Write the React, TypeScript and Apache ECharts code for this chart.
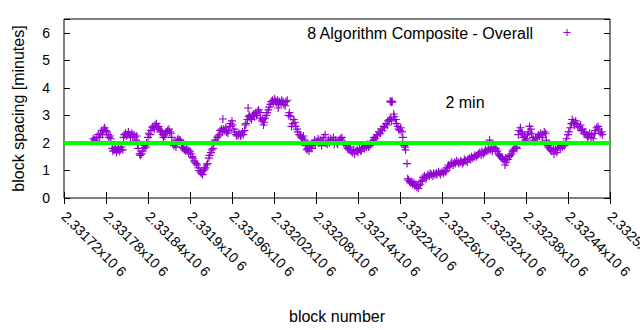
import React, { useEffect, useRef } from "react";
import * as echarts from "echarts";

const BLOCK_START = 2331720;
const BLOCK_END = 2332500;
const BLOCK_TICK = 60;
const TARGET_MINUTES = 2;
const SERIES_NAME = "8 Algorithm Composite - Overall";
const TARGET_LABEL = "2 min";

// block number offsets from BLOCK_START
const blockOffsets = [
  40, 42, 44, 46, 47, 49, 51, 52, 54, 55, 57, 58, 60, 61, 63, 64, 66, 67,
  69, 70, 72, 73, 75, 76, 78, 79, 81, 82, 84,
  85, 86, 88, 89, 91, 92, 94, 95, 97, 98, 100, 101, 103, 104,
  105, 106, 108, 109, 111, 112, 114, 115, 117, 118,
  120, 121, 123, 124, 126, 127, 129, 130, 132, 133, 135, 136, 138, 139, 141, 142, 144,
  145, 147, 148, 150, 151, 153, 154, 156, 157, 159, 160, 162, 163, 165,
  166, 168, 169, 171, 172, 174, 175, 177, 178, 180, 181, 183, 184, 186, 187, 189, 190, 192, 193,
  195, 196, 198, 199, 201, 202, 204, 205, 207, 208, 210, 211, 213,
  214, 216, 217, 219, 220, 222,
  223, 225, 226, 227, 228, 229, 231, 232, 234, 235, 237, 238, 240, 241, 243, 244, 246, 247, 249,
  250, 252, 253, 255, 256, 258,
  259, 260, 262, 263, 264, 265, 266, 268, 269, 271, 272, 274, 275, 277,
  278, 280, 281, 283, 284, 285, 286, 287, 289, 290, 292, 293,
  295, 296, 298, 299, 301, 302, 304, 305, 306, 307, 308, 310, 311, 313, 314, 316, 317, 319,
  321, 322, 324, 325, 327, 328, 330, 331, 333, 334, 336,
  338, 339, 341, 342, 344, 345, 347, 348, 350, 351, 353, 354,
  356, 358, 359, 361, 363, 364, 366, 368, 369, 371, 373, 374, 376, 378, 379, 381, 383, 385, 386, 388, 390, 391, 393, 395, 397, 398, 400, 402,
  404, 405, 407, 409, 410, 412, 414, 415, 417, 419, 420, 422, 424, 425, 427, 429, 430, 432, 434, 435, 437, 439,
  440, 442, 443, 445, 447, 448, 450, 452, 453, 455, 457, 458, 460, 462, 463, 465, 467, 468,
  466, 467, 468, 469,
  471, 472, 474, 475, 477, 478, 480, 481, 483, 484, 486, 487, 488, 490,
  491, 492, 494, 495, 497, 498, 500, 501, 503, 504, 506, 507, 509,
  510, 512, 513, 515, 517, 518, 520, 522, 523, 525, 527, 528, 530, 532, 533, 535, 537, 538, 540, 542, 543, 545,
  546, 548, 549, 551, 553, 554, 556, 558, 559, 561, 563, 564, 566,
  567, 569, 571, 572, 574, 576, 577, 579, 581, 582, 584, 586, 587,
  589, 591, 592, 594, 596, 597, 599, 601, 602, 604, 606, 607, 608,
  609, 611, 612, 614, 616, 617, 619,
  621, 622, 624, 626, 627, 629, 630, 631, 632, 634, 636, 637,
  639, 641, 642, 644, 646, 647,
  649, 650, 652, 653, 655, 656, 658, 659, 661, 662, 664, 665, 667,
  668, 670, 671, 673, 674, 676, 678, 679, 681, 683, 684, 686, 688, 689,
  691, 692, 694, 695, 697, 699, 700, 702, 704, 705, 707, 709, 710, 712, 714, 715,
  717, 718, 720, 721, 723, 725, 726, 728, 729, 731, 733, 734, 736, 738, 739, 741, 743, 744,
  746, 748, 749, 751, 753, 754, 756, 758, 759, 761, 763, 764, 766, 768, 769,
];

// block spacing in minutes
const spacingMinutes = [
  2.05, 2.15, 2.1, 2.2, 2.05, 2.3, 2.2, 2.35, 2.45, 2.3, 2.5, 2.55, 2.45, 2.4, 2.3, 2.2, 2.25, 2.15,
  1.8, 1.7, 1.75, 1.85, 1.65, 1.75, 1.8, 1.7, 1.75, 1.85, 1.75,
  2.2, 2.3, 2.35, 2.25, 2.3, 2.4, 2.3, 2.2, 2.35, 2.25, 2.3, 2.2, 2.1, 2.25,
  1.95, 1.8, 1.6, 1.55, 1.6, 1.7, 1.8, 1.9, 1.85, 2.0,
  2.2, 2.35, 2.3, 2.45, 2.55, 2.6, 2.5, 2.65, 2.7, 2.55, 2.6, 2.5, 2.4, 2.45, 2.3, 2.2, 2.25,
  2.35, 2.4, 2.45, 2.5, 2.4, 2.35, 2.2, 2.0, 1.9, 1.95, 1.85, 2.1, 2.15, 2.1,
  2.1, 2.0, 1.85, 1.8, 1.75, 1.7, 1.8, 1.75, 1.65, 1.7, 1.6, 1.5, 1.45, 1.35, 1.3, 1.25, 1.2, 1.1, 1.0,
  0.95, 0.9, 0.85, 1.0, 1.05, 1.1, 1.2, 1.25, 1.45, 1.55, 1.65, 1.75, 1.8,
  2.0, 2.1, 2.05, 2.2, 2.25, 2.3,
  2.45, 2.5, 2.4, 2.87, 2.5, 2.45, 2.55, 2.4, 2.35, 2.45, 2.6, 2.7, 2.8, 2.65, 2.5, 2.4, 2.3, 2.25, 2.3,
  2.35, 2.25, 2.3, 2.4, 2.3, 2.45,
  2.65, 2.7, 2.85, 3.27, 2.95, 3.0, 2.9, 2.85, 3.0, 3.05, 2.95, 3.1, 3.0, 3.15,
  3.2, 3.1, 2.9, 2.8, 2.85, 2.65, 2.75, 2.9, 3.0, 3.1, 3.2, 3.3,
  3.4, 3.5, 3.55, 3.45, 3.6, 3.5, 3.45, 3.55, 3.27, 3.4, 3.5, 3.45, 3.55, 3.5, 3.4, 3.35, 3.5, 3.55,
  3.0, 3.1, 2.95, 2.6, 2.7, 2.85, 2.75, 2.6, 2.5, 2.4, 2.3,
  2.25, 2.2, 2.15, 2.25, 2.1, 1.9, 1.75, 1.8, 1.7, 1.85, 1.9, 1.8,
  2.0, 2.1, 1.95, 2.05, 2.15, 2.0, 2.1, 1.9, 2.05, 2.2, 2.3, 2.0, 1.95, 2.1, 2.0, 2.15, 2.05, 2.2, 1.95, 2.1, 2.0, 1.95, 2.1, 2.15, 2.2, 2.05, 2.0, 1.95,
  1.9, 1.8, 1.75, 1.85, 1.7, 1.65, 1.75, 1.6, 1.7, 1.75, 1.65, 1.8, 1.7, 1.75, 1.85, 1.8, 1.9, 1.85, 1.95, 1.85, 1.9, 2.0,
  2.05, 2.1, 2.2, 2.15, 2.25, 2.3, 2.4, 2.35, 2.5, 2.45, 2.6, 2.55, 2.7, 2.65, 2.8, 2.85, 2.9, 2.8,
  3.5, 3.52, 3.48, 3.5,
  3.05, 2.95, 2.85, 2.7, 2.6, 2.5, 2.45, 2.55, 2.4, 2.2, 1.9, 1.85, 1.75, 1.25,
  0.7, 0.65, 0.6, 0.55, 0.6, 0.5, 0.55, 0.45, 0.5, 0.4, 0.35, 0.45, 0.5,
  0.6, 0.65, 0.75, 0.8, 0.7, 0.75, 0.85, 0.8, 0.9, 0.85, 0.8, 0.9, 0.85, 0.9, 0.85, 0.95, 0.9, 0.85, 0.95, 0.9, 1.0, 0.95,
  1.0, 1.1, 1.2, 1.15, 1.25, 1.3, 1.2, 1.3, 1.25, 1.35, 1.3, 1.25, 1.3,
  1.35, 1.25, 1.3, 1.4, 1.35, 1.3, 1.4, 1.45, 1.4, 1.5, 1.45, 1.5, 1.55,
  1.5, 1.55, 1.6, 1.65, 1.55, 1.7, 1.6, 1.65, 1.75, 1.7, 1.8, 1.75, 2.1,
  1.75, 1.8, 1.7, 1.85, 1.75, 1.8, 1.7,
  1.6, 1.55, 1.5, 1.45, 1.4, 1.35, 1.2, 1.45, 1.3, 1.4, 1.5, 1.55,
  1.6, 1.7, 1.75, 1.8, 1.85, 1.8,
  2.3, 2.45, 2.55, 2.4, 2.35, 2.2, 2.25, 2.1, 2.15, 2.3, 2.4, 2.6, 2.5,
  2.35, 2.2, 2.1, 2.05, 2.15, 2.2, 2.3, 2.25, 2.35, 2.2, 2.3, 2.4, 2.35, 2.1,
  1.9, 1.85, 1.8, 1.75, 1.7, 1.8, 1.6, 1.75, 1.65, 1.8, 1.85, 1.8, 1.9, 1.85, 1.95, 1.9,
  2.05, 2.15, 2.3, 2.4, 2.55, 2.7, 2.85, 2.75, 2.65, 2.8, 2.7, 2.6, 2.55, 2.65, 2.45, 2.5, 2.35, 2.4,
  2.3, 2.2, 2.25, 2.35, 2.2, 2.3, 2.15, 2.35, 2.45, 2.55, 2.6, 2.5, 2.35, 2.4, 2.3,
];

const PURPLE = "#9400d3";
const GREEN = "#00ff00";
const FONT = "Liberation Sans, Arial, sans-serif";
const PLUS = "path://M3,0h1v3h3v1h-3v3h-1v-3h-3v-1h3z";

function formatBlock(v: number): string {
  const m = parseFloat((v / 1e6).toFixed(5));
  return m + "x10 6";
}

export default function App() {
  const ref = useRef<HTMLDivElement>(null);
  useEffect(() => {
    if (!ref.current) return;
    const chart = echarts.init(ref.current, undefined, { renderer: "svg" });
    const points = blockOffsets.map((o, i) => [BLOCK_START + o, spacingMinutes[i]]);
    const tickStyle = { show: true, inside: true, length: 6, lineStyle: { color: "#000", width: 1 } };
    chart.setOption({
      animation: false,
      backgroundColor: "#fff",
      textStyle: { fontFamily: FONT },
      grid: {
        left: 64, right: 30, top: 19, bottom: 132, containLabel: false, outerBoundsMode: "none",
        show: true, borderColor: "#000", borderWidth: 1, backgroundColor: "transparent",
      },
      xAxis: [
        {
          type: "value", min: BLOCK_START, max: BLOCK_END, interval: BLOCK_TICK, position: "bottom",
          axisLine: { show: false }, splitLine: { show: false }, axisTick: tickStyle,
          axisLabel: { rotate: -45, margin: 16, fontSize: 14, color: "#000", fontFamily: FONT, formatter: formatBlock, showMaxLabel: true, hideOverlap: false },
          name: "block number", nameLocation: "middle", nameGap: 110,
          nameTextStyle: { fontSize: 16, color: "#000", fontFamily: FONT },
        },
        {
          type: "value", min: BLOCK_START, max: BLOCK_END, interval: BLOCK_TICK, position: "top",
          axisLine: { show: false }, splitLine: { show: false }, axisTick: tickStyle, axisLabel: { show: false },
        },
      ],
      yAxis: [
        {
          type: "value", min: 0, max: 6.5, interval: 1, position: "left",
          axisLine: { show: false }, splitLine: { show: false }, axisTick: tickStyle,
          axisLabel: { margin: 14, fontSize: 14, color: "#000", fontFamily: FONT, formatter: (v: number) => (Number.isInteger(v) ? String(v) : "") },
          name: "block spacing [minutes]", nameLocation: "middle", nameGap: 38,
          nameTextStyle: { fontSize: 16, color: "#000", fontFamily: FONT },
        },
        {
          type: "value", min: 0, max: 6.5, interval: 1, position: "right",
          axisLine: { show: false }, splitLine: { show: false }, axisTick: tickStyle, axisLabel: { show: false },
        },
      ],
      series: [
        {
          name: SERIES_NAME, type: "scatter", data: points, symbol: PLUS, symbolSize: 8,
          itemStyle: { color: PURPLE, opacity: 1 }, silent: true,
        },
        {
          name: TARGET_LABEL, type: "line", data: [[BLOCK_START, TARGET_MINUTES], [BLOCK_END, TARGET_MINUTES]],
          symbol: "none", lineStyle: { color: GREEN, width: 4 }, silent: true,
        },
      ],
      graphic: [
        { type: "text", x: 533, y: 33, style: { text: SERIES_NAME, fontSize: 16, fontFamily: FONT, fill: "#000", align: "right", verticalAlign: "middle" } },
        { type: "line", shape: { x1: 563.5, y1: 32.5, x2: 570.5, y2: 32.5 }, style: { stroke: PURPLE, lineWidth: 1 } },
        { type: "line", shape: { x1: 567, y1: 29, x2: 567, y2: 36 }, style: { stroke: PURPLE, lineWidth: 1 } },
        { type: "text", x: 465, y: 102, style: { text: TARGET_LABEL, fontSize: 16, fontFamily: FONT, fill: "#000", align: "center", verticalAlign: "middle" } },
      ],
    });
    return () => chart.dispose();
  }, []);
  return <div ref={ref} style={{ position: "fixed", left: 0, top: 0, width: 640, height: 330, background: "#fff" }} />;
}
